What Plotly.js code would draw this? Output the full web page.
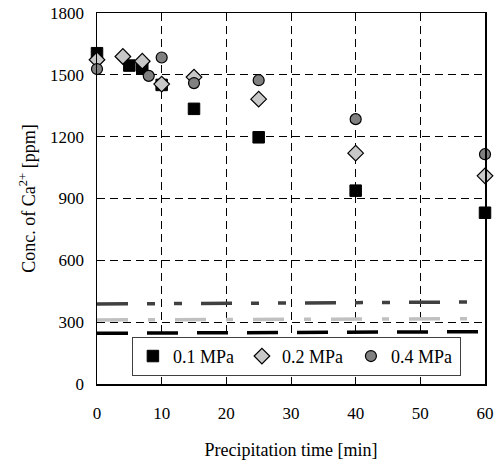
<!DOCTYPE html>
<html>
<head>
<meta charset="utf-8">
<script src="https://cdn.plot.ly/plotly-3.0.1.min.js"></script>
<style>html,body{margin:0;padding:0;background:#fff;}#chart{width:499px;height:461px;}</style>
</head>
<body>
<div id="chart"></div>
<script>
// Data
var time01 = [0, 5, 7, 10, 15, 25, 40, 60];
var conc01 = [1605, 1545, 1532, 1451, 1335, 1197, 938, 831];
var time02 = [0, 4, 7, 10, 15, 25, 40, 60];
var conc02 = [1573, 1589, 1566, 1455, 1489, 1382, 1120, 1010];
var time04 = [0, 8, 10, 15, 25, 40, 60];
var conc04 = [1528, 1495, 1584, 1460, 1474, 1285, 1115];
var refX = [0, 60];
var refDark = [388, 398];
var refLight = [311, 317];
var refBlack = [246, 254];
var seriesNames = ['0.1 MPa', '0.2 MPa', '0.4 MPa'];

var FONT = 'Liberation Serif';

var traces = [
  {x: refX, y: refDark, mode: 'lines', showlegend: false, hoverinfo: 'skip',
   line: {color: '#404040', width: 3.5, dash: '31px,19px,8px,19px,8px,19px'}},
  {x: refX, y: refLight, mode: 'lines', showlegend: false, hoverinfo: 'skip',
   line: {color: '#c0c0c0', width: 3.5, dash: '31px,20px,7px,20px'}},
  {x: refX, y: refBlack, mode: 'lines', showlegend: false, hoverinfo: 'skip',
   line: {color: '#000000', width: 3.5, dash: '31px,19px'}},
  {x: time01, y: conc01, name: seriesNames[0], mode: 'markers', cliponaxis: false,
   marker: {symbol: 'square', size: 11.5, color: '#000000', line: {color: '#000000', width: 1}}},
  {x: time02, y: conc02, name: seriesNames[1], mode: 'markers', cliponaxis: false,
   marker: {symbol: 'diamond', size: 12, color: '#c8c8c8', line: {color: '#000000', width: 1.2}}},
  {x: time04, y: conc04, name: seriesNames[2], mode: 'markers', cliponaxis: false,
   marker: {symbol: 'circle', size: 11, color: '#808080', line: {color: '#000000', width: 1.2}}}
];

var layout = {
  width: 499, height: 461,
  margin: {l: 97, r: 14, t: 13, b: 77},
  paper_bgcolor: '#ffffff', plot_bgcolor: '#ffffff',
  font: {family: FONT, size: 17, color: '#000000'},
  showlegend: true,
  legend: {
    orientation: 'h', x: 0.09, y: 0.022, xanchor: 'left', yanchor: 'bottom',
    bgcolor: '#ffffff', bordercolor: '#404040', borderwidth: 1,
    font: {family: FONT, size: 18, color: '#000000'},
    entrywidth: 64, entrywidthmode: 'pixels', itemclick: false
  },
  xaxis: {
    range: [0, 60], tickvals: [0, 10, 20, 30, 40, 50, 60],
    showline: true, linecolor: '#000000', linewidth: 1.5, mirror: true,
    showgrid: true, gridcolor: '#000000', gridwidth: 1, griddash: '8px,5px',
    zeroline: false, ticks: 'inside', ticklen: 5, tickcolor: '#000000',
    ticklabelstandoff: 13,
    tickfont: {family: FONT, size: 17},
    title: {text: 'Precipitation time [min]', font: {family: FONT, size: 18}, standoff: 21}
  },
  yaxis: {
    range: [0, 1800], tickvals: [0, 300, 600, 900, 1200, 1500, 1800],
    showline: true, linecolor: '#000000', linewidth: 1.5, mirror: true,
    showgrid: true, gridcolor: '#000000', gridwidth: 1, griddash: '8px,5px',
    zeroline: false, ticks: 'inside', ticklen: 5, tickcolor: '#000000',
    ticklabelstandoff: 8,
    tickfont: {family: FONT, size: 17},
    title: {text: 'Conc. of Ca<sup>2+</sup> [ppm]', font: {family: FONT, size: 18}, standoff: 10}
  }
};

Plotly.newPlot('chart', traces, layout, {displayModeBar: false, staticPlot: true});
</script>
</body>
</html>
